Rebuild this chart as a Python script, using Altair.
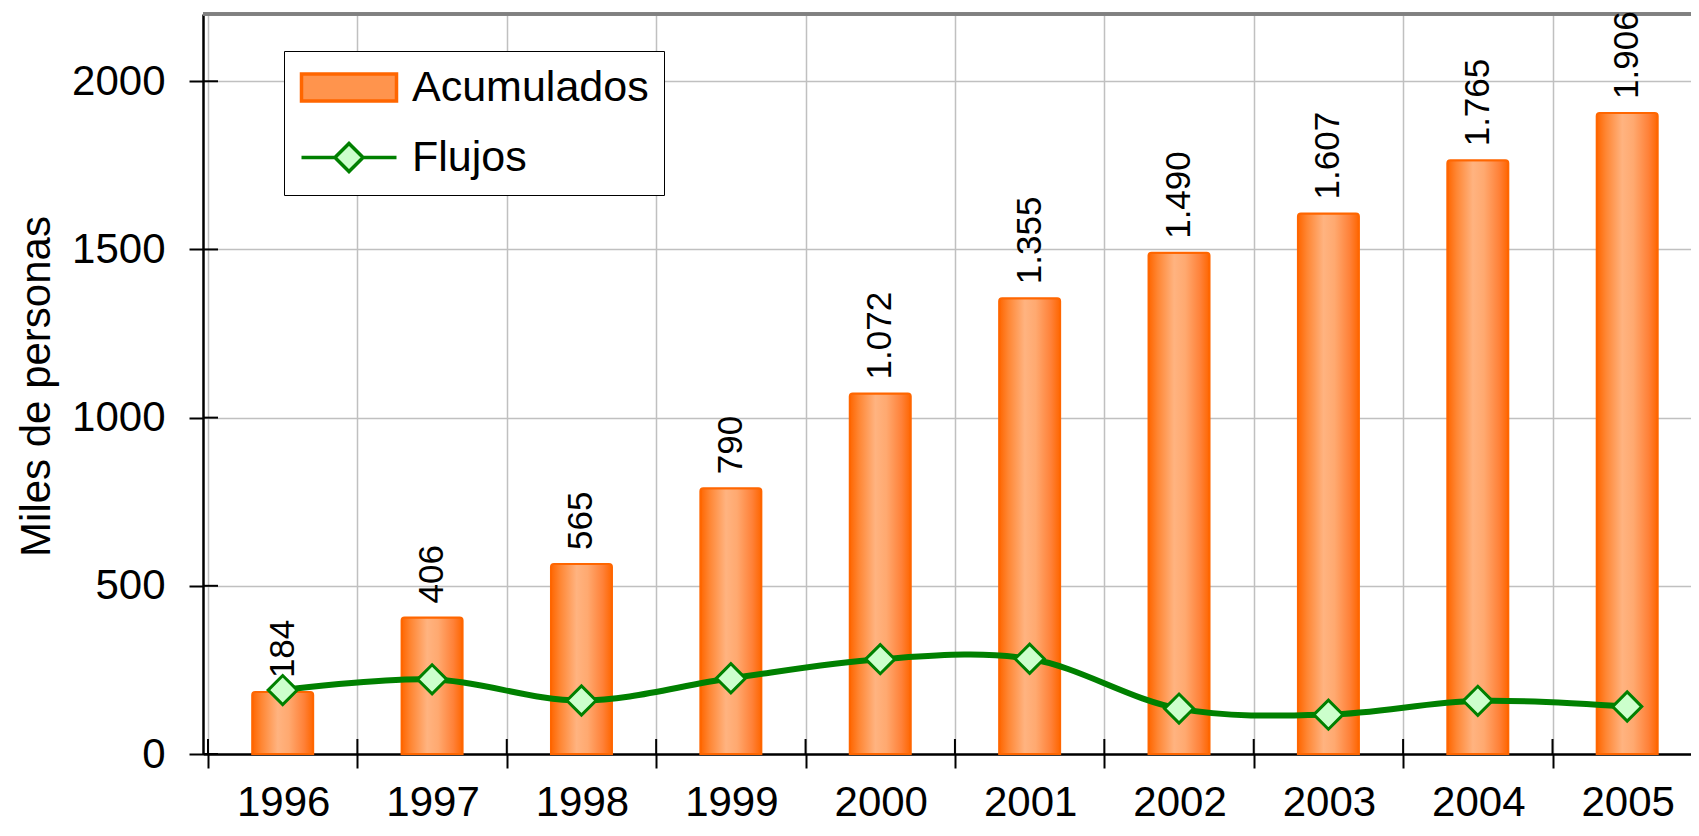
import altair as alt
import pandas as pd

years = [1996, 1997, 1998, 1999, 2000, 2001, 2002, 2003, 2004, 2005]
acumulados = [184, 406, 565, 790, 1072, 1355, 1490, 1607, 1765, 1906]
acum_labels = ["184", "406", "565", "790", "1.072", "1.355", "1.490", "1.607", "1.765", "1.906"]
flujos = [190, 222, 159, 225, 282, 283, 135, 117, 158, 141]
y_ticks = [0, 500, 1000, 1500, 2000]
x_bounds = [1995.5, 1996.5, 1997.5, 1998.5, 1999.5, 2000.5, 2001.5, 2002.5, 2003.5, 2004.5]
series = ["Acumulados", "Flujos"]

df = pd.DataFrame({"year": years, "acum": acumulados, "label": acum_labels, "flujo": flujos})
df_ticks = pd.DataFrame({"v": y_ticks})
df_bounds = pd.DataFrame({"b": x_bounds})
df_leg = pd.DataFrame({"serie": series})

W, H = 1488, 740
STEP = 150.4  # pixel width of one year cell (the plot continues past the window edge)
FONT = "Liberation Sans"

xscale = alt.Scale(domain=[1995.5, 1995.5 + W / STEP], nice=False, zero=False)
yscale = alt.Scale(domain=[0, 2200], nice=False, zero=True)

xaxis = alt.Axis(title=None, values=x_bounds, labelAngle=0, tickSize=14, tickColor="black",
                 tickWidth=2, domainColor="black", domainWidth=2.5, grid=True,
                 gridColor="#C0C0C0", gridWidth=1.5, labelFont=FONT, labelFontSize=42,
                 labelColor="black", labelPadding=14, labelOffset=STEP / 2,
                 labelExpr="format(datum.value + 0.5, 'd')", labelFlush=False,
                 labelOverlap=False, labelBound=False)
yaxis = alt.Axis(values=y_ticks, format="d", title="Miles de personas", tickSize=14,
                 tickColor="black", tickWidth=2, domainColor="black", domainWidth=2.5,
                 grid=True, gridColor="#C0C0C0", gridWidth=1.5, labelFont=FONT,
                 labelFontSize=42, labelColor="black", labelPadding=24, titleFont=FONT,
                 titleFontSize=42, titleFontWeight="normal", titleColor="black",
                 titleX=-167, titleY=372, titleAngle=270, titleBaseline="middle",
                 titleAlign="center")

X = alt.X("year:Q", scale=xscale, axis=xaxis)

bar_grad = alt.Gradient(
    gradient="linear", x1=0, x2=1, y1=0, y2=0,
    stops=[
        alt.GradientStop(color="#FF6600", offset=0),
        alt.GradientStop(color="#FF8633", offset=0.15),
        alt.GradientStop(color="#FFB380", offset=0.42),
        alt.GradientStop(color="#FFA970", offset=0.6),
        alt.GradientStop(color="#FF8138", offset=0.85),
        alt.GradientStop(color="#FF6600", offset=1),
    ],
)

base = alt.Chart(df)

bars = base.mark_bar(fill=bar_grad, stroke="#FF6600", strokeWidth=2, size=61,
                     cornerRadiusTopLeft=3, cornerRadiusTopRight=3).encode(
    x=X, y=alt.Y("acum:Q", scale=yscale, axis=yaxis)
)

labels = base.mark_text(angle=270, align="left", baseline="middle", dx=14,
                        font=FONT, fontSize=35, color="black").encode(
    x=X, y=alt.Y("acum:Q", scale=yscale, axis=yaxis), text="label:N"
)

line = base.mark_line(color="#008000", strokeWidth=6, interpolate="catmull-rom").encode(
    x=X, y=alt.Y("flujo:Q", scale=yscale, axis=yaxis)
)

points = base.mark_point(shape="diamond", size=850, filled=True, fill="#CCFFCC",
                         stroke="#008000", strokeWidth=3, opacity=1).encode(
    x=X, y=alt.Y("flujo:Q", scale=yscale, axis=yaxis)
)

ytick_in = alt.Chart(df_ticks).mark_rule(color="black", strokeWidth=2).encode(
    x=alt.value(0), x2=alt.value(15), y=alt.Y("v:Q", scale=yscale, axis=yaxis)
)

xtick_in = alt.Chart(df_bounds).mark_rule(color="black", strokeWidth=2).encode(
    x=alt.X("b:Q", scale=xscale, axis=xaxis),
    y=alt.value(H - 15), y2=alt.value(H)
)

top_border = alt.Chart(df_ticks).mark_rule(color="#808080", strokeWidth=3).encode(
    x=alt.value(0), x2=alt.value(W), y=alt.value(0)
)

rect_path = "M-1,-0.71H4V0.71H-1Z"
line_path = "M-1,0H0.76M2.24,0H4M0.76,0L1.5,-0.74L2.24,0L1.5,0.74Z"

legend = alt.Legend(
    title=None, orient="none", legendX=81, legendY=37, direction="vertical",
    fillColor="white", strokeColor="black", padding=15, cornerRadius=0,
    symbolSize=1444, symbolStrokeWidth=3.5, symbolOpacity=1,
    labelFont=FONT, labelFontSize=43, labelColor="black", labelOffset=70,
    labelBaseline="middle", rowPadding=26, labelLimit=0,
)

leg_layer = alt.Chart(df_leg).mark_point(opacity=0, filled=True).encode(
    shape=alt.Shape("serie:N", scale=alt.Scale(domain=series, range=[rect_path, line_path]),
                    legend=legend),
    fill=alt.Fill("serie:N", scale=alt.Scale(domain=series, range=["#FF944D", "#CCFFCC"]),
                  legend=legend),
    stroke=alt.Stroke("serie:N", scale=alt.Scale(domain=series, range=["#FF6600", "#008000"]),
                      legend=legend),
)

chart = alt.layer(ytick_in, xtick_in, top_border, bars, line, points, labels,
                  leg_layer).properties(
    width=W, height=H,
    autosize=alt.AutoSizeParams(type="none"),
    padding={"left": 195, "top": 6, "right": 0, "bottom": 72},
    background="white",
).configure_view(stroke=None)

chart.save("out.html", embed_options={"renderer": "svg", "actions": False})
